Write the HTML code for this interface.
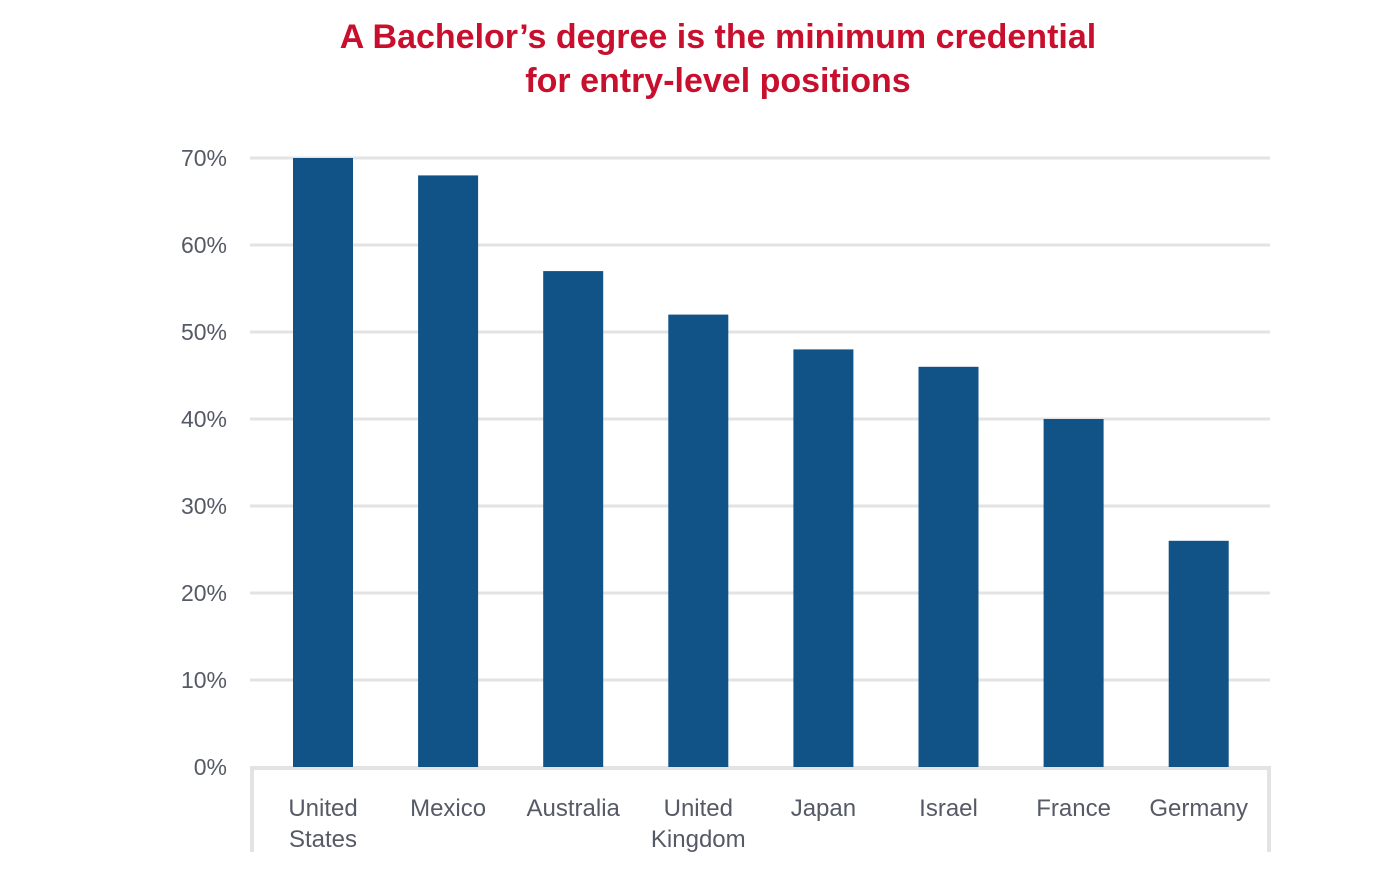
<!DOCTYPE html>
<html><head><meta charset="utf-8"><style>
body{margin:0;background:#fff;}
svg{display:block;font-family:"Liberation Sans",sans-serif;}
</style></head><body>
<svg id="c" width="1400" height="892">
<text x="718" y="48" text-anchor="middle" font-size="34" font-weight="bold" fill="#c8102e">A Bachelor’s degree is the minimum credential</text>
<text x="718" y="92" text-anchor="middle" font-size="34" font-weight="bold" fill="#c8102e">for entry-level positions</text>
<g id="grid"></g><g id="bars"></g><g id="labels"></g>
</svg>
<script>
const categories=[["United","States"],["Mexico"],["Australia"],["United","Kingdom"],["Japan"],["Israel"],["France"],["Germany"]];
const values=[70,68,57,52,48,46,40,26];
const ticks=[0,10,20,30,40,50,60,70];
const tickLabels=["0%","10%","20%","30%","40%","50%","60%","70%"];
const NS="http://www.w3.org/2000/svg";
const x0=250,x1=1270,y0=767,yTop=158,maxV=70;
const y=v=>y0-(v/maxV)*(y0-yTop);
const firstC=323,step=125.1;
const xc=i=>firstC+step*i;
function mk(t,a,p){const e=document.createElementNS(NS,t);for(const k in a)e.setAttribute(k,a[k]);p.appendChild(e);return e;}
const g=document.getElementById('grid'),b=document.getElementById('bars'),l=document.getElementById('labels');
ticks.forEach((t,i)=>{
 if(t>0){const ln=mk('line',{x1:x0,x2:x1,y1:y(t),y2:y(t),stroke:'#e3e3e6','stroke-width':3},g);
 
 }
 const tx=mk('text',{x:227,y:y(t)+8,'text-anchor':'end','font-size':23,fill:'#555a66'},g);
 tx.textContent=tickLabels[i];
 
 
});
const ax=mk('path',{d:`M${x0+2},852 V${y0+1} H${x1-1} V852`,fill:'none',stroke:'#e3e3e6','stroke-width':4},g);


values.forEach((v,i)=>{
 const r=mk('rect',{x:xc(i)-30,y:y(v),width:60,height:y0-y(v),fill:'#115287'},b);
 
 
 categories[i].forEach((s,j)=>{
  const t=mk('text',{x:xc(i),y:816+j*31,'text-anchor':'middle','font-size':24,fill:'#555a66'},l);
  t.textContent=s;
  
  
 });
});
</script>
</body></html>
